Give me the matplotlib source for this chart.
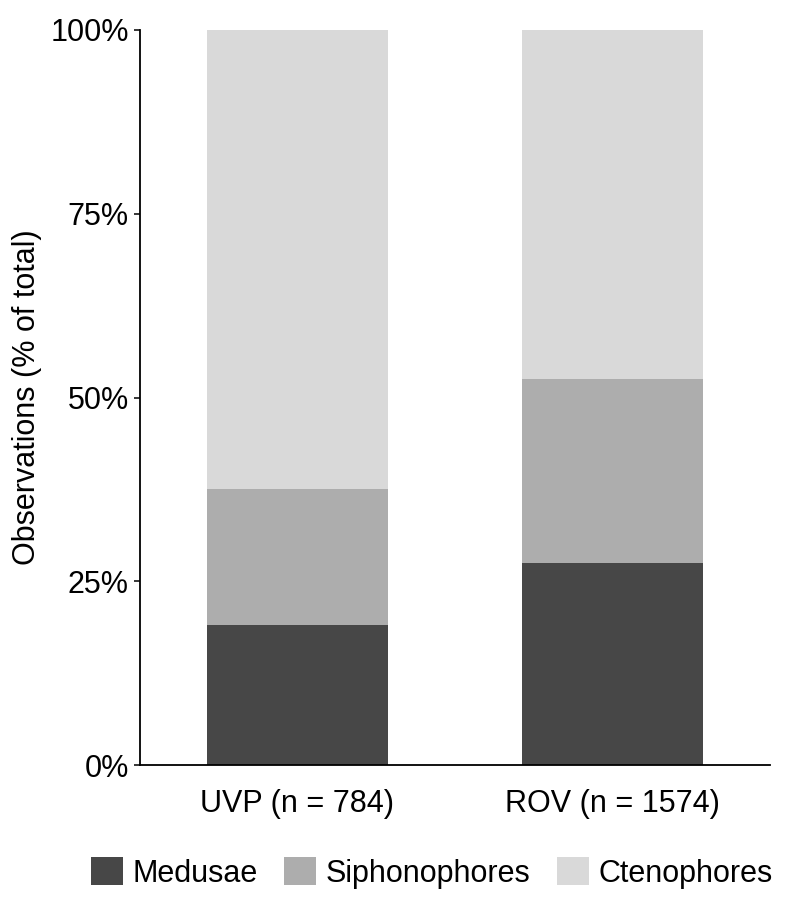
import matplotlib
matplotlib.use("Agg")
import matplotlib.pyplot as plt
from matplotlib.ticker import PercentFormatter

plt.rcParams['font.family'] = ['Liberation Sans', 'DejaVu Sans']

categories = ["UVP (n = 784)", "ROV (n = 1574)"]
groups = ["Medusae", "Siphonophores", "Ctenophores"]
medusae = [19.0, 27.5]
siphonophores = [18.5, 25.0]
ctenophores = [62.5, 47.5]
colors = ["#474747", "#adadad", "#d9d9d9"]

fig = plt.figure(figsize=(8, 9.06), dpi=100)
ax = fig.add_axes([0.175, 0.1556, 0.7875, 0.8113])

x = list(range(len(categories)))
bottom = [0.0] * len(categories)
handles = []
for name, vals, c in zip(groups, [medusae, siphonophores, ctenophores], colors):
    h = ax.bar(x, vals, width=0.572, bottom=bottom, color=c, label=name, linewidth=0)
    handles.append(h)
    bottom = [b + v for b, v in zip(bottom, vals)]

ax.set_xlim(-0.5, 1.5)
ax.set_ylim(0, 100)
ax.set_yticks([0, 25, 50, 75, 100])
ax.yaxis.set_major_formatter(PercentFormatter(decimals=0))
ax.set_xticks(x)
ax.set_xticklabels(categories)
ax.tick_params(axis='y', labelsize=22, length=4, width=1.1, pad=4, color='black')
ax.tick_params(axis='x', labelsize=22, length=0, pad=17)
ax.set_ylabel("Observations (% of total)", fontsize=22, labelpad=6)
for s in ['top', 'right']:
    ax.spines[s].set_visible(False)
for s in ['left', 'bottom']:
    ax.spines[s].set_linewidth(1.3)
    ax.spines[s].set_color('black')

fig.legend(handles=handles, labels=groups, loc='center', bbox_to_anchor=(0.54, 0.0365),
           ncol=3, frameon=False, fontsize=22, handlelength=1.05, handleheight=1.05,
           handletextpad=0.32, columnspacing=0.85)

fig.savefig("out.png", dpi=100)
